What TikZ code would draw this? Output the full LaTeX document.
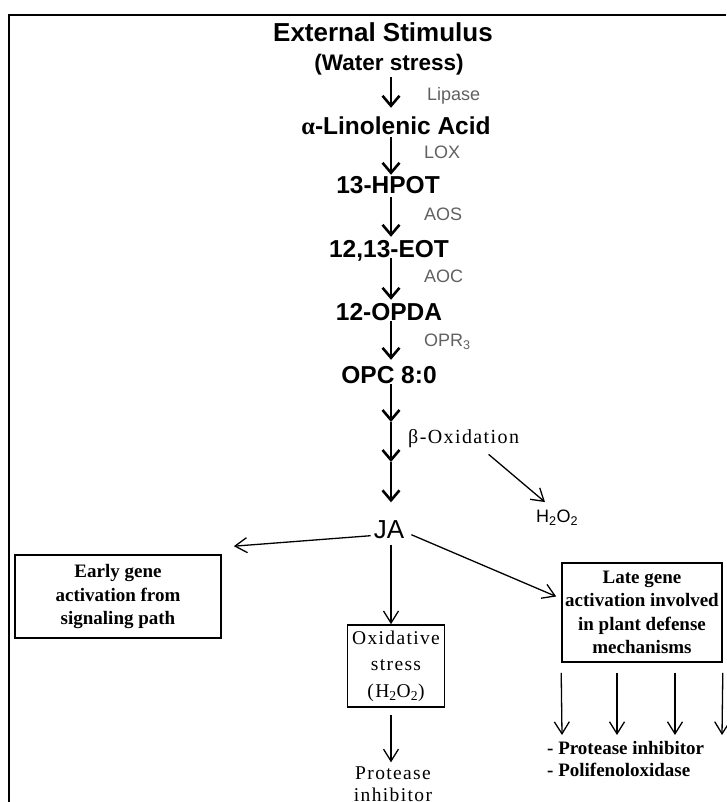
\documentclass[tikz,border=0pt]{standalone}
\usepackage{fontspec}
\setmainfont{Liberation Serif}
\setsansfont{Liberation Sans}
\newfontfamily\spaced[LetterSpace=7]{Liberation Serif}
\usetikzlibrary{arrows.meta,calc}
\definecolor{enzgray}{gray}{0.38}
\begin{document}
\begin{tikzpicture}[x=1pt,y=-1pt,
  chainnode/.style={font=\sffamily\bfseries\fontsize{24.5}{26}\selectfont, inner sep=0pt, text height=18pt, text depth=0pt},
  enz/.style={font=\sffamily\fontsize{18}{20}\selectfont, text=enzgray, anchor=west, inner sep=0pt},
  mainarr/.style={line width=2.6pt, -{Straight Barb[length=10pt,width=17pt,line width=2.6pt]}},
  thinarr/.style={line width=1.3pt, -{Straight Barb[length=12pt,width=15pt,line width=1.3pt]}},
  boldbox/.style={draw, line width=1.6pt, font=\bfseries\fontsize{19}{23.4}\selectfont, align=center, inner sep=0pt},
  spbox/.style={draw, line width=1.6pt, font=\spaced\fontsize{19.5}{26.5}\selectfont, align=center, inner sep=0pt},
  sptext/.style={font=\spaced\fontsize{19.5}{22}\selectfont, align=center, inner sep=0pt},
  listtext/.style={font=\bfseries\fontsize{19}{22}\selectfont, align=left, inner sep=0pt, anchor=west}
]
\fill[white] (0,0) rectangle (726,802);
\useasboundingbox (0,0) rectangle (726,802);
% frame
\draw[line width=2pt] (9,802) -- (9,15) -- (726,15);
\coordinate (cx) at (391,0);

% title
\node[font=\sffamily\bfseries\fontsize{26}{28}\selectfont, inner sep=0pt] (ext) at (383,32) {External Stimulus};
\node[chainnode, font=\sffamily\bfseries\fontsize{22.5}{24}\selectfont] (water) at (389,62) {(Water stress)};

% chain
\node[chainnode] (alpha) at (396,126) {{\rmfamily\bfseries α}-Linolenic Acid};
\node[chainnode] (hpot) at (388,185) {13-HPOT};
\node[chainnode] (eot) at (389,248) {12,13-EOT};
\node[chainnode] (opda) at (389,311) {12-OPDA};
\node[chainnode] (opc) at (389,374) {OPC 8:0};
\node[font=\sffamily\fontsize{26}{28}\selectfont, inner sep=0pt, text height=19pt, text depth=0pt] (ja) at (389,529) {JA};

% enzymes
\node[enz] (lipase) at (427,96) {Lipase};
\node[enz] (lox) at (424,152) {LOX};
\node[enz] (aos) at (424,214) {AOS};
\node[enz] (aoc) at (424,276) {AOC};
\node[enz] (opr) at (424,342) {OPR\textsubscript{3}};
\node[font=\spaced\fontsize{20}{22}\selectfont, inner sep=0pt, anchor=west] (beta) at (408,439) {β-Oxidation};
\node[font=\sffamily\fontsize{18}{20}\selectfont, inner sep=0pt] (h2o2) at (557,518) {H\textsubscript{2}O\textsubscript{2}};

% chain arrows
\draw[mainarr] ([yshift=-6pt]water.south -| cx) -- ([yshift=9pt]alpha.north -| cx);
\draw[mainarr] ([yshift=-2pt]alpha.south -| cx) -- ([yshift=1pt]hpot.north -| cx);
\draw[mainarr] ([yshift=-3pt]hpot.south -| cx) -- ([yshift=2pt]eot.north -| cx);
\draw[mainarr] ([yshift=-1pt]eot.south -| cx) -- ([yshift=2pt]opda.north -| cx);
\draw[mainarr] ([yshift=-1pt]opda.south -| cx) -- ([yshift=5pt]opc.north -| cx);
\coordinate (j1) at (391,422);
\coordinate (j2) at (391,462);
\draw[mainarr] ([yshift=-1pt]opc.south -| cx) -- (j1);
\draw[mainarr] (j1) -- (j2);
\draw[mainarr] (j2) -- ([yshift=17pt]ja.north -| cx);

% beta-oxidation side arrow
\draw[thinarr] ([shift={(25pt,-6pt)}]beta.south) -- ([shift={(-12pt,8pt)}]h2o2.north);

% boxes
\node[boldbox, minimum width=206pt, minimum height=83pt] (early) at (118,596.5) {Early gene\\activation from\\signaling path};
\node[spbox, minimum width=97pt, minimum height=82pt] (oxid) at (396,666) {Oxidative\\stress\\(H\textsubscript{2}O\textsubscript{2})};
\node[boldbox, minimum width=160pt, minimum height=99pt] (late) at (642,612.5) {Late gene\\activation involved\\in plant defense\\mechanisms};

% JA arrows
\draw[thinarr] ([shift={(-3pt,3pt)}]ja.south west) -- ([shift={(12pt,8pt)}]early.north east);
\draw[thinarr] ([yshift=-6pt]ja.south -| cx) -- (oxid.north -| cx);
\draw[thinarr] ([shift={(7pt,4pt)}]ja.south east) -- ([shift={(-5pt,16pt)}]late.west);

% below oxidative
\node[sptext] (prot) at (393,784) {Protease\\inhibitor};
\draw[thinarr] ([yshift=-7pt]oxid.south -| cx) -- ([yshift=4pt]prot.north -| cx);

% below late
\node[listtext] (list) at (547,759) {- Protease inhibitor\\- Polifenoloxidase};
\coordinate (t1) at (562,735);
\coordinate (t2) at (617,735);
\coordinate (t3) at (675,735);
\coordinate (t4) at (722,735);
\draw[thinarr] ([yshift=-10pt]late.south west) -- (t1);
\draw[thinarr] (t2 |- late.south) ++(0,10) -- (t2);
\draw[thinarr] (t3 |- late.south) ++(0,10) -- (t3);
\draw[thinarr] ([yshift=-10pt]late.south east) -- (t4);
\end{tikzpicture}
\end{document}
